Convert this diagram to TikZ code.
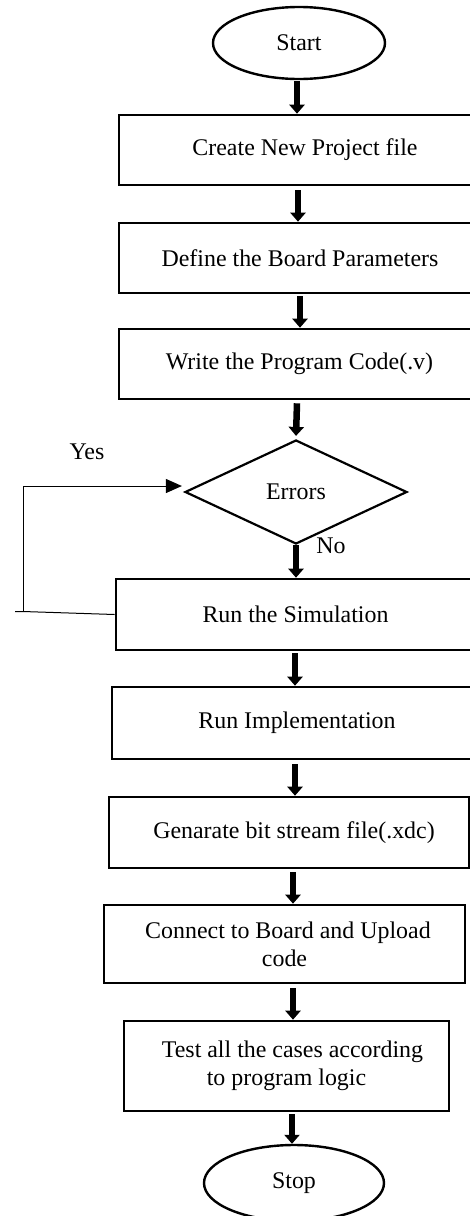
\documentclass[tikz,border=0pt]{standalone}
\usepackage{fontspec}
\setmainfont{Liberation Serif}
\usetikzlibrary{shapes.geometric,arrows.meta}

\tikzset{
  every node/.style={font=\fontsize{24}{28}\selectfont, inner sep=0pt},
  stepbox/.style={draw, line width=2.6bp, rectangle, align=center},
  terminal/.style={draw, line width=2.4bp, ellipse},
  decision/.style={draw, line width=2.2bp, diamond},
  flow/.style={line width=6.5bp, -{Triangle[width=15bp,length=9bp]}},
  loopline/.style={line width=1bp},
}

\begin{document}
\begin{tikzpicture}[x=1bp, y=-1bp]
\useasboundingbox (0,0) rectangle (470,1216);
\clip (0,0) rectangle (470,1216);

% terminals
\node[terminal, minimum width=172bp, minimum height=72bp] (start) at (299,43) {Start};
\node[terminal, minimum width=180bp, minimum height=76bp] (stop) at (294,1183) {Stop};

% process steps
\node[stepbox, minimum width=372bp, minimum height=70bp] (b1) at (305,150) {Create New Project file};
\node[stepbox, minimum width=362bp, minimum height=70bp] (b2) at (300,258) {Define the Board Parameters};
\node[stepbox, minimum width=361bp, minimum height=70bp] (b3) at (299.5,364) {Write the Program Code(.v)};
\node[decision, minimum width=222bp, minimum height=104bp] (d) at (296,492) {Errors};
\node[stepbox, minimum width=359bp, minimum height=71bp] (b4) at (295.5,614.5) {Run the Simulation};
\node[stepbox, minimum width=370bp, minimum height=72bp] (b5) at (297,723) {Run Implementation};
\node[stepbox, minimum width=360bp, minimum height=71bp] (b6) at (289,832.5) {\hspace*{10bp}Genarate bit stream file(.xdc)};
\node[stepbox, minimum width=361bp, minimum height=78bp] (b7) at (284.5,944) {\hspace*{7bp}Connect to Board and Upload\\code};
\node[stepbox, minimum width=325bp, minimum height=90bp] (b8) at (286.5,1066) {\hspace*{12bp}Test all the cases according\\to program logic};

% branch labels
\node (yes) at (87,452) {Yes};
\node (no) at (331,546) {No};

% main flow arrows
\draw[flow] (297,0 |- start.south) ++(0,1) -- (297,0 |- b1.north);
\draw[flow] (298,0 |- b1.south) ++(0,4) -- (298,0 |- b2.north);
\draw[flow] (300,0 |- b2.south) ++(0,2) -- (300,0 |- b3.north);
\draw[flow] (297,0 |- b3.south) ++(0,3) -- ([yshift=3bp]d.north);
\draw[flow] (296,0 |- d.south) -- (296,0 |- b4.north);
\draw[flow] (295,0 |- b4.south) ++(0,2) -- (295,0 |- b5.north);
\draw[flow] (295,0 |- b5.south) ++(0,4) -- (295,0 |- b6.north);
\draw[flow] (293,0 |- b6.south) ++(0,3) -- (293,0 |- b7.north);
\draw[flow] (293,0 |- b7.south) ++(0,4) -- (293,0 |- b8.north);
\draw[flow] (292,0 |- b8.south) ++(0,2) -- (292,0 |- stop.north);

% feedback loop from the simulation back to the error check
\coordinate (corner) at (23,611.5);
\draw[loopline] (b4.west) -- (corner) -- ++(-8,0);
\draw[loopline, -{Triangle[width=14bp,length=16bp]}] (corner) |- ([xshift=-2bp,yshift=6bp]d.west);
\end{tikzpicture}
\end{document}
